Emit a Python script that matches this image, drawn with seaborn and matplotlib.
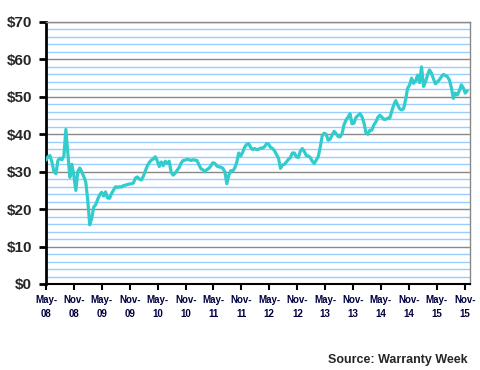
import matplotlib
matplotlib.use('Agg')
import matplotlib.pyplot as plt
import seaborn as sns
import pandas as pd
from matplotlib.ticker import MultipleLocator, FuncFormatter

# ---- data ----
start_date = '2008-05-01'
step_days = 13
end_date = '2015-12-05'
price = [
    33.1, 34.0, 34.3, 32.5, 30.0, 29.5, 33.0, 33.6, 33.2, 34.2,
    41.3, 35.0, 28.5, 32.0, 29.0, 25.0, 30.0, 31.0, 30.0, 28.7,
    27.3, 22.5, 15.8, 17.5, 20.5, 21.2, 22.6, 23.8, 24.5, 23.5,
    24.6, 23.0, 22.9, 24.2, 25.1, 26.0, 25.8, 26.0, 25.9, 26.3,
    26.4, 26.6, 26.7, 26.8, 27.0, 28.3, 28.6, 28.0, 27.8, 28.8,
    30.2, 31.6, 32.5, 33.1, 33.4, 34.0, 32.9, 31.4, 32.6, 31.6,
    32.8, 32.2, 32.8, 29.8, 29.1, 29.6, 30.4, 31.1, 32.3, 33.0,
    33.1, 33.3, 33.2, 33.0, 33.2, 33.1, 33.0, 31.8, 30.8, 30.5,
    30.0, 30.6, 30.9, 31.6, 32.4, 32.2, 31.5, 31.3, 31.2, 30.9,
    30.0, 26.8, 29.1, 30.3, 30.2, 31.0, 32.5, 35.0, 34.2, 35.2,
    36.6, 37.3, 37.5, 36.5, 35.9, 36.2, 35.9, 36.0, 36.3, 36.3,
    36.7, 37.5, 37.4, 36.5, 36.2, 35.6, 34.6, 33.6, 30.9, 31.8,
    32.0, 32.6, 33.3, 33.8, 35.0, 35.0, 34.0, 33.8, 35.5, 36.2,
    35.4, 34.3, 34.2, 33.8, 32.8, 32.2, 33.1, 34.0, 36.5, 39.6,
    40.3, 40.0, 38.4, 38.7, 39.8, 40.8, 40.2, 39.4, 39.3, 40.2,
    42.6, 43.8, 44.6, 45.5, 42.8, 43.0, 44.5, 45.0, 45.5, 44.7,
    43.1, 40.5, 40.0, 41.1, 41.1, 42.5, 43.3, 44.5, 45.1, 44.6,
    44.0, 44.0, 44.3, 44.3, 46.2, 47.8, 49.0, 47.8, 46.8, 46.5,
    46.9, 49.3, 52.3, 53.2, 55.0, 53.6, 54.3, 55.8, 53.8, 58.0,
    52.8, 54.0, 55.8, 57.2, 56.3, 54.8, 53.5, 54.0, 54.6, 55.4,
    56.0, 55.7, 55.4, 54.5, 52.5, 49.6, 51.0, 50.5, 51.6, 53.2,
    52.4, 51.0, 51.6,
]
tick_dates = ['2008-05-01', '2008-11-01', '2009-05-01', '2009-11-01',
              '2010-05-01', '2010-11-01', '2011-05-01', '2011-11-01',
              '2012-05-01', '2012-11-01', '2013-05-01', '2013-11-01',
              '2014-05-01', '2014-11-01', '2015-05-01', '2015-11-01']
tick_labels = ['May-\n08', 'Nov-\n08', 'May-\n09', 'Nov-\n09',
               'May-\n10', 'Nov-\n10', 'May-\n11', 'Nov-\n11',
               'May-\n12', 'Nov-\n12', 'May-\n13', 'Nov-\n13',
               'May-\n14', 'Nov-\n14', 'May-\n15', 'Nov-\n15']
source_text = 'Source: Warranty Week'

# ---- style ----
sns.set_style('white')
plt.rcParams['font.family'] = ['Liberation Sans', 'DejaVu Sans']

fig = plt.figure(figsize=(4.8, 3.7), dpi=100)
ax = fig.add_axes([46 / 480, 1 - 284 / 370, 424 / 480, 262 / 370])

df = pd.DataFrame({
    'date': pd.date_range(start_date, periods=len(price), freq=f'{step_days}D'),
    'price': price,
})
sns.lineplot(data=df, x='date', y='price', color='#33CCCC', lw=2.3, ax=ax, zorder=3)

ax.set_ylim(0, 70)
ax.set_xlim(pd.Timestamp(start_date), pd.Timestamp(end_date))
ax.yaxis.set_major_locator(MultipleLocator(10))
ax.yaxis.set_minor_locator(MultipleLocator(2))
ax.yaxis.set_major_formatter(FuncFormatter(lambda v, p: f'${int(v)}'))
ax.grid(which='minor', axis='y', color='#99CCFF', lw=1.0)
ax.grid(which='major', axis='y', color='#888888', lw=1.0)
ax.grid(which='major', axis='x', visible=False)
ax.set_axisbelow(True)

ax.tick_params(axis='y', which='minor', length=0)
ax.tick_params(axis='y', which='major', length=5, width=2, direction='out',
               pad=5, labelsize=11, color='black', left=True)
for lab in ax.get_yticklabels():
    lab.set_fontweight('bold')

ax.set_xticks(pd.to_datetime(tick_dates))
ax.set_xticklabels(tick_labels, fontsize=7, fontweight='bold', color='#000040',
                   linespacing=1.5)
ax.tick_params(axis='x', length=4, width=1.5, pad=4, color='black', bottom=True)

ax.set_xlabel('')
ax.set_ylabel('')

ax.spines['left'].set_color('black')
ax.spines['left'].set_linewidth(2)
ax.spines['bottom'].set_color('black')
ax.spines['bottom'].set_linewidth(1.5)
ax.spines['right'].set_color('#888888')
ax.spines['right'].set_linewidth(1)
ax.spines['top'].set_color('#888888')
ax.spines['top'].set_linewidth(1)

fig.text(468 / 480, 1 - 360 / 370, source_text, ha='right', va='center',
         fontsize=9, fontweight='bold')

fig.savefig('out.png', dpi=100)
